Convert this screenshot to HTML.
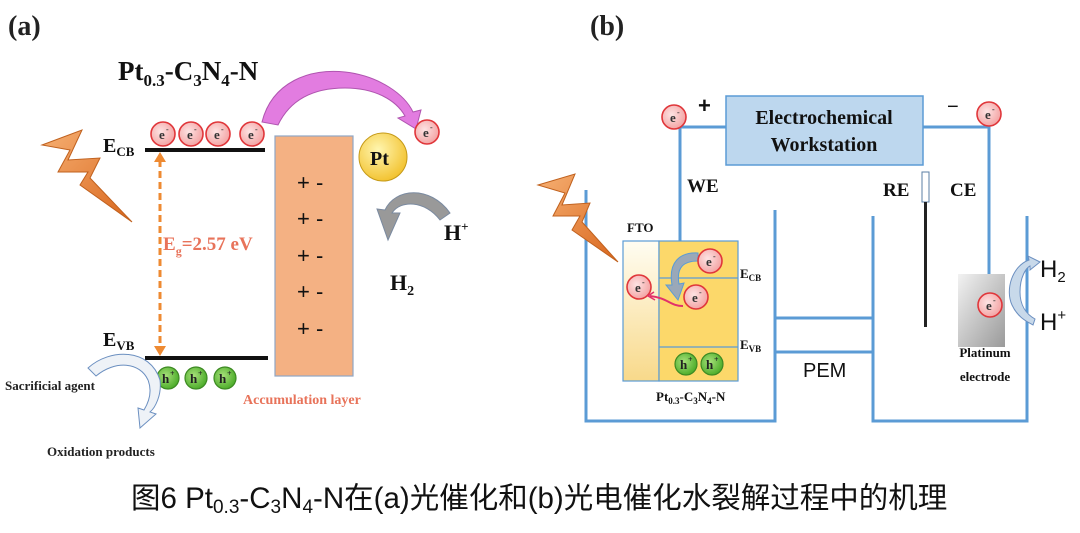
<!DOCTYPE html>
<html><head><meta charset="utf-8"><style>
html,body{margin:0;padding:0;background:#fff;}
svg{display:block;}
.s{font-family:"Liberation Serif",serif;font-weight:bold;}
.a{font-family:"Liberation Sans","Noto Sans CJK SC",sans-serif;}
</style></head><body>
<svg width="1080" height="533" viewBox="0 0 1080 533" xmlns="http://www.w3.org/2000/svg">
<defs>
<linearGradient id="lt" x1="0" y1="0" x2="1" y2="1"><stop offset="0" stop-color="#f6b073"/><stop offset="1" stop-color="#d9661c"/></linearGradient>
<radialGradient id="pt" cx="0.4" cy="0.35" r="0.7"><stop offset="0" stop-color="#fff6b0"/><stop offset="1" stop-color="#f2c02a"/></radialGradient>
<linearGradient id="fto" x1="0" y1="0" x2="0" y2="1"><stop offset="0" stop-color="#fffdf2"/><stop offset="1" stop-color="#f8d98a"/></linearGradient>
<linearGradient id="pl" x1="0" y1="0" x2="1" y2="1"><stop offset="0" stop-color="#f2f2f2"/><stop offset="1" stop-color="#9a9a9a"/></linearGradient>
<radialGradient id="ec" cx="0.4" cy="0.4" r="0.6"><stop offset="0" stop-color="#fde3e3"/><stop offset="1" stop-color="#f4a6a6"/></radialGradient>
<radialGradient id="hc" cx="0.4" cy="0.4" r="0.6"><stop offset="0" stop-color="#a7e07a"/><stop offset="1" stop-color="#4fae2c"/></radialGradient>
<g id="e"><circle r="12" fill="url(#ec)" stroke="#e0363a" stroke-width="1.6"/><text x="-4" y="5" class="s" font-size="13" fill="#333">e</text><text x="3" y="-2" class="s" font-size="8" fill="#333">-</text></g>
<g id="h"><circle r="11" fill="url(#hc)" stroke="#3d8a23" stroke-width="1.2"/><text x="-6" y="5" class="s" font-size="13" fill="#222">h</text><text x="2" y="-2" class="s" font-size="8" fill="#222">+</text></g>
</defs>

<!-- Panel a -->
<text x="8" y="35" class="s" font-size="28" fill="#222">(a)</text>
<text x="118" y="80" class="s" font-size="27" fill="#111">Pt<tspan font-size="17" dy="6">0.3</tspan><tspan dy="-6">-C</tspan><tspan font-size="17" dy="6">3</tspan><tspan dy="-6">N</tspan><tspan font-size="17" dy="6">4</tspan><tspan dy="-6">-N</tspan></text>
<path d="M262,122 C272,82 310,68 345,72 C380,76 405,95 413,112 L421,110 L416,129 L398,118 L405,116 C396,100 375,88 345,88 C312,88 290,100 278,125 Z" fill="#e27ce0" stroke="#b055b0" stroke-width="1"/>
<!-- lightning a -->
<path d="M42,145 L82,130 L68,160 L100,158 L90,178 L132,222 L80,185 L88,172 L58,172 L70,150 Z" fill="url(#lt)" stroke="#c0611e" stroke-width="1"/>
<text x="103" y="152" class="s" font-size="20" fill="#111">E<tspan font-size="13" dy="4">CB</tspan></text>
<text x="103" y="346" class="s" font-size="20" fill="#111">E<tspan font-size="13" dy="4">VB</tspan></text>
<rect x="145" y="148" width="120" height="4" fill="#111"/>
<rect x="145" y="356" width="123" height="4" fill="#111"/>
<line x1="160" y1="160" x2="160" y2="348" stroke="#ee8a32" stroke-width="3" stroke-dasharray="7,4"/>
<path d="M154,162 L160,152 L166,162 Z" fill="#ee8a32"/><path d="M154,346 L160,356 L166,346 Z" fill="#ee8a32"/>
<text x="163" y="250" class="s" font-size="19" fill="#e8735a">E<tspan font-size="12" dy="5">g</tspan><tspan dy="-5">=2.57 eV</tspan></text>
<rect x="275" y="136" width="78" height="240" fill="#f4b183" stroke="#8fa6c4" stroke-width="1.2"/>
<g class="a" font-size="22" fill="#111"><text x="297" y="190">+ -</text><text x="297" y="226">+ -</text><text x="297" y="263">+ -</text><text x="297" y="299">+ -</text><text x="297" y="336">+ -</text></g>
<use href="#e" x="163" y="134"/><use href="#e" x="191" y="134"/><use href="#e" x="218" y="134"/><use href="#e" x="252" y="134"/>
<use href="#e" x="427" y="132"/>
<circle cx="383" cy="157" r="24" fill="url(#pt)" stroke="#c59a18" stroke-width="1"/>
<text x="370" y="165" class="s" font-size="20" fill="#111">Pt</text>
<path d="M450,213 C430,185 395,188 385,210 L377,209 L388,240 L400,213 L392,213 C400,200 425,200 440,220 Z" fill="#999" stroke="#7a8aa0" stroke-width="1"/>
<text x="444" y="240" class="s" font-size="22" fill="#111">H<tspan font-size="13" dy="-9">+</tspan></text>
<text x="390" y="290" class="s" font-size="22" fill="#111">H<tspan font-size="14" dy="5">2</tspan></text>
<use href="#h" x="168" y="378"/><use href="#h" x="196" y="378"/><use href="#h" x="225" y="378"/>
<path d="M88,368 C110,348 150,348 160,380 C162,395 155,408 150,412 L156,414 L140,428 L138,408 L144,410 C150,400 152,390 148,380 C140,362 115,360 96,376 Z" fill="#eef2f7" stroke="#6b8fc0" stroke-width="1"/>
<text x="5" y="390" class="s" font-size="13" fill="#222">Sacrificial agent</text>
<text x="47" y="456" class="s" font-size="13" fill="#222">Oxidation products</text>
<text x="243" y="404" class="s" font-size="14" fill="#e8735a">Accumulation layer</text>

<!-- Panel b -->
<text x="590" y="35" class="s" font-size="28" fill="#222">(b)</text>
<g stroke="#5b9bd5" stroke-width="3" fill="none">
<polyline points="586,190 586,421 775,421 775,210"/>
<polyline points="873,216 873,421 1027,421 1027,216"/>
<line x1="775" y1="318" x2="873" y2="318"/><line x1="775" y1="352" x2="873" y2="352"/>
<polyline points="726,127 680,127 680,241"/>
<polyline points="923,127 989,127 989,274"/>
</g>
<rect x="726" y="96" width="197" height="69" fill="#bdd7ee" stroke="#5b9bd5" stroke-width="1.5"/>
<text x="824" y="124" text-anchor="middle" class="s" font-size="20" fill="#111">Electrochemical</text>
<text x="824" y="151" text-anchor="middle" class="s" font-size="20" fill="#111">Workstation</text>
<use href="#e" x="674" y="117"/><use href="#e" x="989" y="114"/>
<text x="698" y="113" class="a" font-size="22" font-weight="bold" fill="#111">+</text>
<text x="947" y="113" class="a" font-size="20" fill="#111">−</text>
<text x="687" y="192" class="s" font-size="19" fill="#111">WE</text>
<text x="883" y="196" class="s" font-size="19" fill="#111">RE</text>
<text x="950" y="196" class="s" font-size="19" fill="#111">CE</text>
<rect x="922" y="172" width="7" height="30" fill="#fff" stroke="#5b7fa6" stroke-width="1"/>
<line x1="925.5" y1="202" x2="925.5" y2="327" stroke="#222" stroke-width="3"/>
<!-- lightning b -->
<path d="M538,185 L575,174 L562,205 L590,203 L582,222 L618,262 L572,230 L580,216 L553,216 L565,193 Z" fill="url(#lt)" stroke="#c0611e" stroke-width="1"/>
<text x="627" y="232" class="s" font-size="13" fill="#111">FTO</text>
<rect x="623" y="241" width="36" height="140" fill="url(#fto)" stroke="#5b9bd5" stroke-width="1.2"/>
<rect x="659" y="241" width="79" height="140" fill="#fcd86a" stroke="#5b9bd5" stroke-width="1.2"/>
<line x1="659" y1="278" x2="738" y2="278" stroke="#5b9bd5" stroke-width="1.2"/>
<line x1="659" y1="347" x2="738" y2="347" stroke="#5b9bd5" stroke-width="1.2"/>
<path d="M698,253 C680,252 668,262 672,285 L666,285 L678,300 L684,283 L679,284 C676,267 684,261 698,261 Z" fill="#9aa8b8" stroke="#5b9bd5" stroke-width="1"/>
<use href="#e" x="710" y="261"/><use href="#e" x="696" y="297"/><use href="#e" x="639" y="287"/>
<path d="M683,306 C670,306 668,298 650,296" stroke="#e2306a" stroke-width="2" fill="none"/>
<path d="M654,292 L648,296 L655,300" stroke="#e2306a" stroke-width="1.5" fill="none"/>
<use href="#h" x="686" y="364"/><use href="#h" x="712" y="364"/>
<text x="740" y="278" class="s" font-size="13" fill="#111">E<tspan font-size="9" dy="3">CB</tspan></text>
<text x="740" y="349" class="s" font-size="13" fill="#111">E<tspan font-size="9" dy="3">VB</tspan></text>
<text x="656" y="401" class="s" font-size="13" fill="#111">Pt<tspan font-size="9" dy="3">0.3</tspan><tspan dy="-3">-C</tspan><tspan font-size="9" dy="3">3</tspan><tspan dy="-3">N</tspan><tspan font-size="9" dy="3">4</tspan><tspan dy="-3">-N</tspan></text>
<text x="803" y="377" class="a" font-size="20" fill="#111">PEM</text>
<rect x="958" y="274" width="47" height="73" fill="url(#pl)"/>
<use href="#e" x="990" y="305"/>
<path d="M1040,262 L1028,256 L1029,260 C1012,266 1005,290 1012,305 C1018,318 1028,322 1033,325 L1035,319 C1026,314 1020,305 1020,292 C1020,277 1026,268 1030,266 L1030,270 Z" fill="#c8d9ea" stroke="#6b8fc0" stroke-width="1"/>
<text x="1040" y="277" class="a" font-size="24" fill="#111">H<tspan font-size="15" dy="5">2</tspan></text>
<text x="1040" y="330" class="a" font-size="24" fill="#111">H<tspan font-size="15" dy="-10">+</tspan></text>
<text x="985" y="357" text-anchor="middle" class="s" font-size="13" fill="#111">Platinum</text>
<text x="985" y="381" text-anchor="middle" class="s" font-size="13" fill="#111">electrode</text>

<!-- caption -->
<text x="131" y="508" class="a" font-size="29.5" fill="#111">图6 Pt<tspan font-size="19" dy="5">0.3</tspan><tspan dy="-5">-C</tspan><tspan font-size="19" dy="5">3</tspan><tspan dy="-5">N</tspan><tspan font-size="19" dy="5">4</tspan><tspan dy="-5">-N在(a)光催化和(b)光电催化水裂解过程中的机理</tspan></text>
</svg>
</body></html>
